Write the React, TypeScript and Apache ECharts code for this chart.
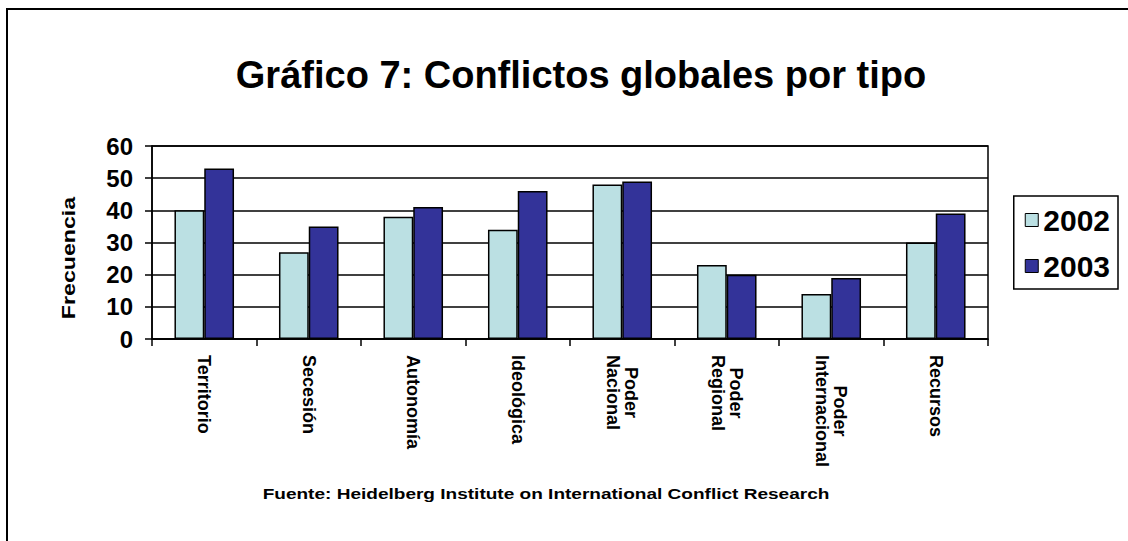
import React, { useEffect, useRef } from "react";
import * as echarts from "echarts";

const categories = [
  "Territorio",
  "Secesión",
  "Autonomía",
  "Ideológica",
  "Poder\nNacional",
  "Poder\nRegional",
  "Poder\nInternacional",
  "Recursos",
];
const values2002 = [40, 27, 38, 34, 48, 23, 14, 30];
const values2003 = [53, 35, 41, 46, 49, 20, 19, 39];
const seriesNames = ["2002", "2003"];
const yTicks = { min: 0, max: 60, interval: 10 };

const titleText = "Gráfico 7: Conflictos globales por tipo";
const sourceText = "Fuente: Heidelberg Institute on International Conflict Research";
const yName = "Frecuencia";

const FONT = "'Liberation Sans', Arial, sans-serif";

export default function App() {
  const ref = useRef<HTMLDivElement>(null);
  useEffect(() => {
    if (!ref.current) return;
    const chart = echarts.init(ref.current, null, { renderer: "svg" });
    chart.setOption({
      animation: false,
      backgroundColor: "#ffffff",
      textStyle: { fontFamily: FONT },
      grid: {
        left: 152,
        right: 140,
        top: 146,
        bottom: 202,
        show: true,
        borderColor: "#000",
        borderWidth: 1.5,
        containLabel: false,
      },
      legend: {
        data: seriesNames,
        orient: "vertical",
        right: 10,
        top: 196,
        icon: "rect",
        itemWidth: 13,
        itemHeight: 13,
        itemGap: 16,
        itemTextGap: 8,
        itemStyle: { borderColor: "#000", borderWidth: 1 },
        borderColor: "#000",
        borderWidth: 1.5,
        padding: [9, 8, 8, 11],
        textStyle: { fontFamily: FONT, fontWeight: "bold", fontSize: 30, color: "#000" },
      },
      xAxis: {
        type: "category",
        data: categories,
        axisLine: { lineStyle: { color: "#000", width: 1.5 } },
        axisTick: { show: true, length: 7, alignWithLabel: false, lineStyle: { color: "#000", width: 1.5 } },
        axisLabel: {
          rotate: -90,
          margin: 16,
          interval: 0,
          color: "#000",
          formatter: (v: string) => v.split("\n").map((s) => `{c|${s}}`).join("\n"),
          rich: {
            c: {
              align: "center",
              fontFamily: FONT,
              fontWeight: "bold",
              fontSize: 18,
              lineHeight: 18,
              color: "#000",
            },
          },
        },
      },
      yAxis: {
        type: "value",
        min: yTicks.min,
        max: yTicks.max,
        interval: yTicks.interval,
        axisLine: { show: true, lineStyle: { color: "#000", width: 1.5 } },
        axisTick: { show: true, length: 7, lineStyle: { color: "#000", width: 1.5 } },
        axisLabel: {
          margin: 19,
          color: "#000",
          fontFamily: FONT,
          fontWeight: "bold",
          fontSize: 24,
        },
        splitLine: { show: true, lineStyle: { color: "#000", width: 1.5 } },
      },
      series: [
        {
          name: seriesNames[0],
          type: "bar",
          data: values2002,
          barGap: "0%",
          barCategoryGap: "43%",
          itemStyle: { color: "#BBE0E3", borderColor: "#000", borderWidth: 1.5 },
        },
        {
          name: seriesNames[1],
          type: "bar",
          data: values2003,
          barGap: "0%",
          barCategoryGap: "43%",
          itemStyle: { color: "#333399", borderColor: "#000", borderWidth: 1.5 },
        },
      ],
      graphic: [
        {
          type: "rect",
          shape: { x: 7, y: 9, width: 1300, height: 700 },
          style: { fill: "none", stroke: "#000", lineWidth: 2 },
          silent: true,
        },
        {
          type: "text",
          x: 581,
          y: 75,
          style: {
            text: titleText,
            fontFamily: FONT,
            fontWeight: "bold",
            fontSize: 38,
            fill: "#000",
            align: "center",
            verticalAlign: "middle",
          },
        },
        {
          type: "text",
          x: 68,
          y: 258,
          rotation: Math.PI / 2,
          scaleX: 1.22,
          style: {
            text: yName,
            fontFamily: FONT,
            fontWeight: "bold",
            fontSize: 19,
            fill: "#000",
            align: "center",
            verticalAlign: "middle",
          },
        },
        {
          type: "text",
          x: 546,
          y: 494,
          scaleX: 1.27,
          style: {
            text: sourceText,
            fontFamily: FONT,
            fontWeight: "bold",
            fontSize: 15,
            fill: "#000",
            align: "center",
            verticalAlign: "middle",
          },
        },
      ],
    });
    return () => chart.dispose();
  }, []);
  return (
    <div
      ref={ref}
      style={{ position: "absolute", left: 0, top: 0, width: 1128, height: 541 }}
    />
  );
}
